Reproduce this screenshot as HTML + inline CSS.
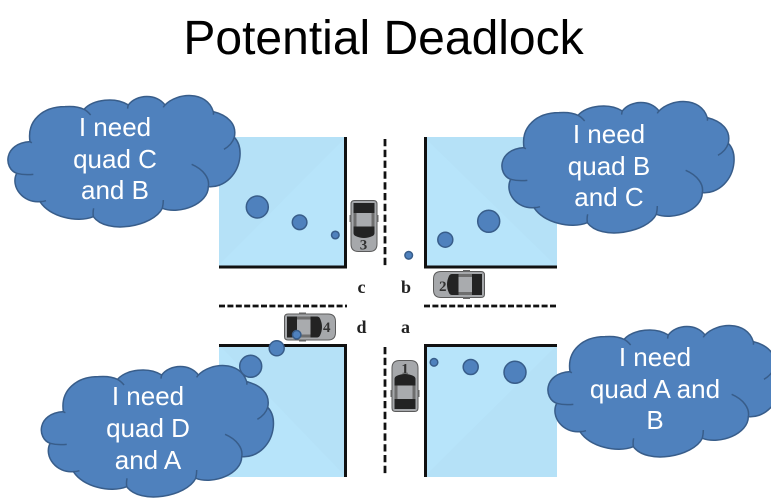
<!DOCTYPE html>
<html>
<head>
<meta charset="utf-8">
<style>
html,body{margin:0;padding:0;background:#fff;width:771px;height:503px;overflow:hidden}
svg{display:block}
.t{font-family:"Liberation Sans",sans-serif;font-size:26px;fill:#fff;text-anchor:middle}
.l{font-family:"Liberation Serif",serif;font-size:18px;font-weight:bold;fill:#222;text-anchor:middle}
.n{font-family:"Liberation Serif",serif;font-size:15px;font-weight:bold;fill:#333;text-anchor:middle}
.c{fill:#4f81bd;stroke:#385d8a;stroke-width:1.5}
</style>
</head>
<body>
<svg width="771" height="503" viewBox="0 0 771 503" xmlns="http://www.w3.org/2000/svg">
<defs>
  <g id="cloud">
    <g transform="translate(0,80) scale(0.3333)">
      <path d="M90,185 C80,120 130,80 195,80 C220,78 240,82 252,88 C280,58 345,50 385,75 C410,42 470,40 495,75 C530,38 620,30 640,95 C680,105 712,130 703,172 C730,200 725,260 690,295 C670,315 645,322 625,320 C625,372 540,405 487,385 C460,440 320,465 280,410 C230,430 150,410 120,365 C70,370 30,320 50,280 C10,265 10,190 90,185 Z" fill="#4f81bd" stroke="#385d8a" stroke-width="4.5" stroke-linejoin="round"/>
      <path d="M252,88 C260,92 266,98 272,105 M385,75 C384,78 383,82 383,86 M495,75 C493,77 491,79 490,82 M640,95 C641,98 641,100 640,104 M703,172 C698,188 686,200 672,208 M575,253 C610,268 630,295 625,320 M487,385 C489,376 490,368 490,360 M280,410 C279,402 279,393 281,385 M120,365 C126,365 132,364 138,362 M50,280 C65,284 82,285 100,283 M90,185 C91,186 93,187 96,188" fill="none" stroke="#385d8a" stroke-width="4.5"/>
    </g>
  </g>
  <g id="car">
    <path d="M4,0.5 H23 Q26.5,0.5 26.5,4 V44 Q26.5,51.5 19,51.5 H8 Q0.5,51.5 0.5,44 V4 Q0.5,0.5 4,0.5 Z" fill="#a6a8ab" stroke="#5a5a5a" stroke-width="1"/>
    <rect x="-1" y="15" width="2" height="7" fill="#666"/>
    <rect x="26" y="15" width="2" height="7" fill="#666"/>
    <path d="M3,3 H24 V13 H3 Z" fill="#232323"/>
    <rect x="3" y="13" width="21" height="14" fill="#6e6e6e"/>
    <path d="M3,26.5 H24 V33 Q24,35 22,36 Q13.5,40 5,36 Q3,35 3,33 Z" fill="#232323"/>
    <rect x="6" y="13" width="15" height="13.5" fill="#a9abae"/>
  </g>
</defs>

<text x="383.5" y="54" font-family="'Liberation Sans',sans-serif" font-size="48" fill="#000" text-anchor="middle">Potential Deadlock</text>

<!-- quadrants -->
<rect x="219" y="137" width="127" height="130" fill="#b7e4fa"/>
<path d="M219,137 H346 L219,265 Z" fill="#b5e1f7"/>
<rect x="424" y="137" width="133" height="130" fill="#b7e4fa"/>
<path d="M424,137 H557 V267 Z" fill="#b5e1f7"/>
<rect x="219" y="345" width="127" height="132" fill="#b7e4fa"/>
<path d="M219,345 H346 V477 Z" fill="#b5e1f7"/>
<rect x="424" y="345" width="133" height="132" fill="#b7e4fa"/>
<path d="M557,345 V477 H424 Z" fill="#b5e1f7"/>

<!-- walls -->
<g fill="none" stroke="#111" stroke-width="3">
  <path d="M345.5,137 V267 H219"/>
  <path d="M425.5,137 V267 H557"/>
  <path d="M219,345.5 H345.5 V477"/>
  <path d="M557,345.5 H425.5 V477"/>
</g>

<!-- dashes -->
<g fill="none" stroke="#111" stroke-width="2.8">
  <path d="M385,139 V268 M385,347 V476" stroke-dasharray="7.3 3.5"/>
  <path d="M219,306 H347 M424,306 H558" stroke-dasharray="6 2.4"/>
</g>

<!-- cars -->
<g style="filter:blur(.35px)">
<use href="#car" transform="translate(350.5,200)"/>
<text class="n" x="363.5" y="249.5">3</text>
<use href="#car" transform="translate(418.5,412) rotate(180)"/>
<text class="n" x="405" y="373.5">1</text>
<use href="#car" transform="translate(485,271) rotate(90)"/>
<text class="n" x="442.7" y="291">2</text>
<use href="#car" transform="translate(284,340.5) rotate(-90)"/>
<text class="n" x="326.7" y="332">4</text>
</g>

<!-- letters -->
<text class="l" x="361.5" y="293">c</text>
<text class="l" x="406" y="293">b</text>
<text class="l" x="361.5" y="333">d</text>
<text class="l" x="405.5" y="333">a</text>

<!-- dots -->
<circle class="c" cx="257.3" cy="207" r="11"/>
<circle class="c" cx="299.6" cy="222.3" r="7.3"/>
<circle class="c" cx="335.3" cy="235" r="3.8"/>
<circle class="c" cx="488.7" cy="221.3" r="11"/>
<circle class="c" cx="445.3" cy="239.7" r="7.5"/>
<circle class="c" cx="408.7" cy="255.3" r="3.8"/>
<circle class="c" cx="250.7" cy="366.3" r="11"/>
<circle class="c" cx="276.7" cy="348.3" r="7.5"/>
<circle class="c" cx="296.7" cy="334.7" r="4.2"/>
<circle class="c" cx="434" cy="362.3" r="3.8"/>
<circle class="c" cx="470.7" cy="367" r="7.5"/>
<circle class="c" cx="515" cy="372.3" r="11"/>

<!-- clouds -->
<use href="#cloud"/>
<use href="#cloud" transform="translate(494,6)"/>
<use href="#cloud" transform="translate(33.4,270)"/>
<use href="#cloud" transform="translate(540,230)"/>

<text class="t" x="115" y="136">I need</text>
<text class="t" x="115" y="168">quad C</text>
<text class="t" x="115" y="199">and B</text>

<text class="t" x="609" y="143">I need</text>
<text class="t" x="609" y="175">quad B</text>
<text class="t" x="609" y="206">and C</text>

<text class="t" x="148" y="405">I need</text>
<text class="t" x="148" y="437">quad D</text>
<text class="t" x="148" y="469">and A</text>

<text class="t" x="655" y="366">I need</text>
<text class="t" x="655" y="398">quad A and</text>
<text class="t" x="655" y="429">B</text>
</svg>
</body>
</html>
